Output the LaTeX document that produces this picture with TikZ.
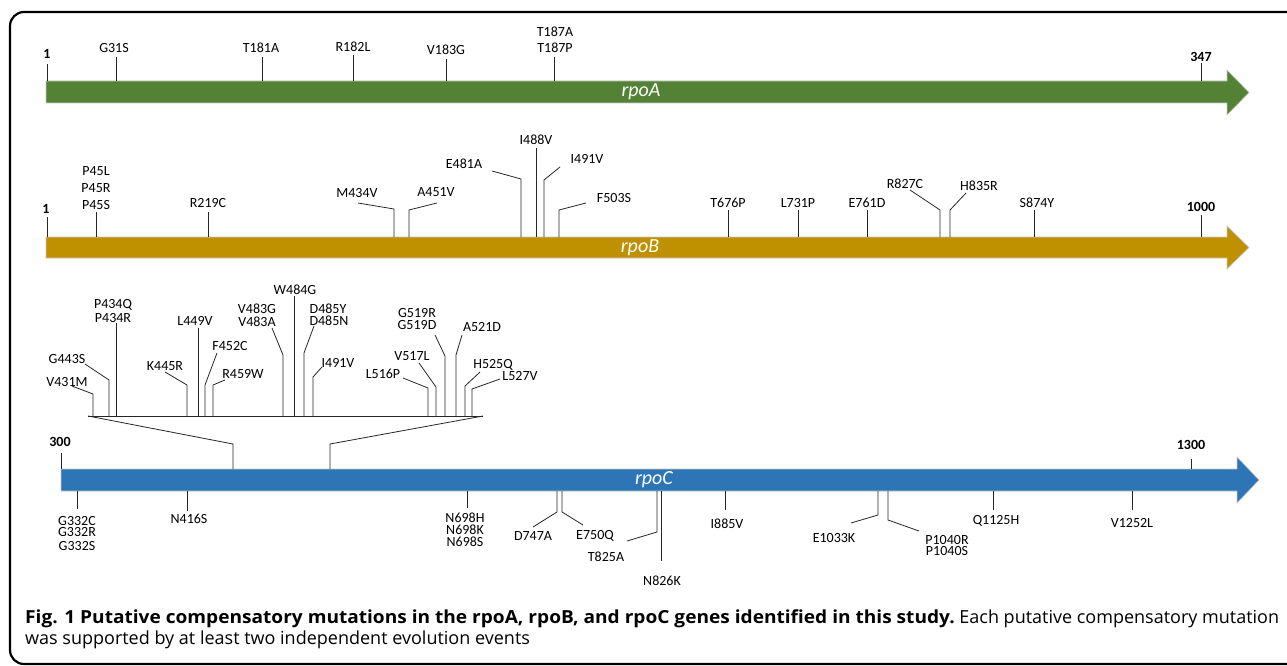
\documentclass[tikz,border=0pt]{standalone}
\usepackage{graphicx}
\usepackage{fontspec}
\setmainfont{Carlito}
\newfontfamily\capfont{Open Sans}
\usetikzlibrary{positioning}

\definecolor{genA}{RGB}{84,130,53}
\definecolor{genB}{RGB}{191,144,0}
\definecolor{genC}{RGB}{46,117,182}

\begin{document}
\begin{tikzpicture}[x=1pt,y=-1pt,
    mut/.style={font=\fontsize{14}{15}\selectfont,inner sep=0pt},
    resnum/.style={font=\bfseries\fontsize{14}{15}\selectfont,inner sep=0pt},
    lead/.style={draw=black!85,line width=0.8pt},
    bar/.style={draw=gray!45,line width=0.6pt},
    gene/.style={font=\itshape\fontsize{20}{21}\selectfont,text=white,inner sep=0pt},
    captext/.style={font=\capfont\fontsize{18}{20}\selectfont,inner sep=0pt}]
   \useasboundingbox (0,0) rectangle (1287,666);
   \draw[line width=2.2pt,rounded corners=14pt] (10,12) rectangle (1320,664);

   % genes
   \filldraw[bar,fill=genA] (46,81) -- (1227,81) -- (1227,70) -- (1249,92.5) -- (1227,115) -- (1227,103) -- (46,103) -- cycle;
   \filldraw[bar,fill=genB] (46,237) -- (1227,237) -- (1227,226) -- (1249,247.5) -- (1227,269) -- (1227,258) -- (46,258) -- cycle;
   \filldraw[bar,fill=genC] (61,469) -- (1237,469) -- (1237,457) -- (1259,480) -- (1237,503) -- (1237,491) -- (61,491) -- cycle;
   \node[gene] (rpoA) at (641,92) {rpoA};
   \node[gene] (rpoB) at (640,248) {rpoB};
   \node[gene] (rpoC) at (654,480) {rpoC};
   \coordinate (Abase) at (0,81);
   \coordinate (Bbase) at (0,237);
   \coordinate (Ctop) at (0,469);
   \coordinate (Cbot) at (0,491);
   \coordinate (Zbase) at (0,416);

   % residue numbers
   \foreach \lx/\ly/\kx/\ky/\base/\m in {47/54/47/64/Abase/1, 1201/57/1201/63/Abase/347,
        46/209/47/217/Bbase/1, 1201/207/1201/215/Bbase/1000,
        60/442/61/453/Ctop/300, 1191/445/1191/459/Ctop/1300}{
     \node[resnum] (n-\base-\m) at (\lx,\ly) {\m};
     \coordinate (k-\base-\m) at (\kx,\ky);
     \draw[lead] (k-\base-\m) -- (k-\base-\m |- \base);
   }

   % mutations: label, start of leader, knee, then down/up to the gene
   \foreach \lx/\ly/\sx/\sy/\kx/\ky/\base/\m in {
        114/48/116/57/116/57/Abase/G31S, 261/48/262/57/262/57/Abase/T181A,
        353/47/353/55/353/55/Abase/R182L, 446/50/446/59/446/59/Abase/V183G,
        555/48/554/57/554/57/Abase/T187P,
        96/205/96/212/96/212/Bbase/P45S,
        208/203/208/212/208/212/Bbase/R219C, 357/193/358/203/394/209/Bbase/M434V,
        436/192/437/203/409/210/Bbase/A451V, 464/164/492/171/521/179/Bbase/E481A,
        536/140/536/148/536/148/Bbase/I488V, 587/159/560/167/544/180/Bbase/I491V,
        614/198/586/203/559/210/Bbase/F503S, 728/203/728/210/728/210/Bbase/T676P,
        798/203/798/210/798/210/Bbase/L731P, 867/203/867/210/867/210/Bbase/E761D,
        905/184/910/190/940/210/Bbase/R827C, 979/186/966/193/950/210/Bbase/H835R,
        1037/203/1034/210/1034/210/Bbase/S874Y,
        67/382/72/386/93/394/Zbase/V431M, 67/359/85/364/109/380/Zbase/G443S,
        113/318/116/323/116/323/Zbase/P434R,
        165/366/165/372/187/385/Zbase/K445R, 195/321/198/328/198/328/Zbase/L449V,
        230/346/217/353/205/385/Zbase/F452C, 243/374/225/380/213/385/Zbase/R459W,
        257/322/272/328/283/355/Zbase/V483A,
        295/290/294/296/294/296/Zbase/W484G,
        329/320.5/314/326/304/353/Zbase/D485N,
        338/363/322/367/313/377/Zbase/I491V, 383/374/403/378/428/388/Zbase/L516P,
        412/356/419/363/436/387/Zbase/V517L,
        417/325.5/435/335/445/356/Zbase/G519D,
        482/327/462/335/456/355/Zbase/A521D, 493/365/480/372/465/386/Zbase/H525Q,
        520/376/500/379/472/389/Zbase/L527V,
        77/520.5/77/509/77/509/Cbot/G332C,
        189/519/187/511/187/511/Cbot/N416S,
        465/517.5/467/508/467/508/Cbot/N698H,
        533/536/533/527/557/512/Cbot/D747A, 595/536/583/525/562/512/Cbot/E750Q,
        606/557/627/541/657/532/Cbot/T825A, 662/581/661/561/661/561/Cbot/N826K,
        727/524/725/510/725/510/Cbot/I885V, 834/538/851/523/878/515/Cbot/E1033K,
        947/539.5/919/531/888/520/Cbot/P1040R,
        996/521/993/510/993/510/Cbot/Q1125H, 1132/523/1132/510/1132/510/Cbot/V1252L}{
     \node[mut] (m-\m) at (\lx,\ly) {\m};
     \coordinate (s-\m) at (\sx,\sy);
     \coordinate (k-\m) at (\kx,\ky);
     \draw[lead] (s-\m) -- (k-\m) -- (k-\m |- \base);
   }
   % further lines of the stacked labels
   \foreach \lx/\ly/\m in {555/32/T187A, 96/171/P45L, 96/188/P45R,
        113/305/P434Q, 257/309/V483G, 328/308.5/D485Y, 417/313.5/G519R,
        77/532.5/G332R, 77/546/G332S, 465/529.5/N698K, 465/541.5/N698S, 947/551/P1040S}
     \node[mut] (m-\m) at (\lx,\ly) {\m};

   % zoom of the rpoC region
   \coordinate (zl) at (88,416);
   \coordinate (zr) at (483,416);
   \coordinate (fl) at (233,444);
   \coordinate (fr) at (330,444);
   \draw[lead] (zl) -- (zr);
   \draw[lead] (zl) -- (fl) -- (fl |- Ctop);
   \draw[lead] (zr) -- (fr) -- (fr |- Ctop);

   % caption
   \node[captext,anchor=base west] (cap1) at (25,623) {\scalebox{1.061}[1]{\textbf{Fig. 1 Putative compensatory mutations in the rpoA, rpoB, and rpoC genes identified in this study.}} Each putative compensatory mutation};
   \node[captext,anchor=base west] (cap2) at (25,644) {was supported by at least two independent evolution events};
\end{tikzpicture}
\end{document}
